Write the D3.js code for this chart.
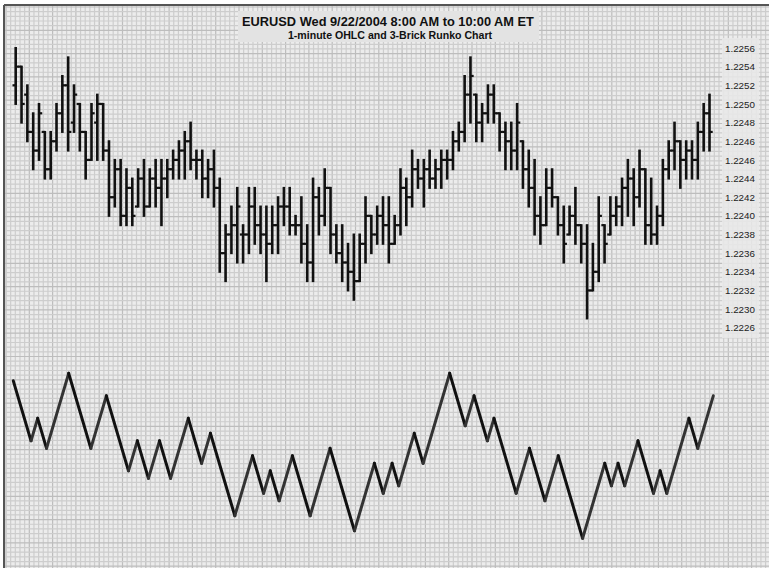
<!DOCTYPE html>
<html>
<head>
<meta charset="utf-8">
<script src="https://cdn.jsdelivr.net/npm/d3@7"></script>
<style>
  body { margin: 0; background: #fff; }
  svg { display: block; }
</style>
</head>
<body>
<div id="chart"></div>
<script>
var width = 769, height = 568;

var titleText = "EURUSD Wed 9/22/2004 8:00 AM to 10:00 AM ET";
var subtitleText = "1-minute OHLC and 3-Brick Runko Chart";

// right hand labels, top to bottom, as printed
var priceLabels = ["1.2256", "1.2254", "1.2252", "1.2250", "1.2248", "1.2246", "1.2246", "1.2244",
    "1.2242", "1.2240", "1.2238", "1.2236", "1.2234", "1.2232", "1.2230", "1.2226"];
var labelStep = 0.0002;

// 1-minute bars 8:00 .. 9:59
var ohlcOpen = [
    1.2252,1.2254,1.2251,1.2247,1.2245,1.2247,1.2243,1.2246,1.2249,1.2252,
    1.2248,1.2250,1.2247,1.2244,1.2248,1.2250,1.2245,1.2240,1.2243,1.2238,
    1.2241,1.2239,1.2242,1.2239,1.2242,1.2241,1.2242,1.2243,1.2244,1.2245,
    1.2246,1.2244,1.2244,1.2242,1.2243,1.2241,1.2234,1.2236,1.2237,1.2236,
    1.2236,1.2239,1.2237,1.2236,1.2235,1.2237,1.2239,1.2239,1.2237,1.2237,
    1.2235,1.2233,1.2240,1.2238,1.2241,1.2236,1.2234,1.2233,1.2232,1.2231,
    1.2235,1.2238,1.2236,1.2238,1.2237,1.2235,1.2237,1.2241,1.2240,1.2243,
    1.2242,1.2243,1.2242,1.2243,1.2244,1.2244,1.2246,1.2247,1.2251,1.2251,
    1.2248,1.2249,1.2251,1.2249,1.2247,1.2246,1.2245,1.2246,1.2243,1.2241,
    1.2238,1.2237,1.2241,1.2240,1.2237,1.2236,1.2238,1.2237,1.2235,1.2230,
    1.2232,1.2237,1.2236,1.2238,1.2239,1.2241,1.2242,1.2240,1.2243,1.2237,
    1.2236,1.2238,1.2243,1.2245,1.2246,1.2244,1.2245,1.2244,1.2247,1.2249];
var ohlcHigh = [
    1.2256,1.2254,1.2252,1.2249,1.2250,1.2247,1.2247,1.2250,1.2253,1.2255,
    1.2252,1.2250,1.2247,1.2250,1.2251,1.2250,1.2246,1.2244,1.2244,1.2243,
    1.2242,1.2243,1.2244,1.2243,1.2244,1.2244,1.2244,1.2245,1.2246,1.2247,
    1.2248,1.2245,1.2245,1.2244,1.2245,1.2242,1.2237,1.2239,1.2241,1.2237,
    1.2241,1.2241,1.2239,1.2239,1.2239,1.2240,1.2241,1.2241,1.2238,1.2240,
    1.2237,1.2242,1.2241,1.2243,1.2241,1.2237,1.2237,1.2235,1.2236,1.2236,
    1.2240,1.2238,1.2239,1.2240,1.2240,1.2238,1.2243,1.2242,1.2245,1.2244,
    1.2244,1.2245,1.2244,1.2245,1.2245,1.2247,1.2248,1.2253,1.2255,1.2251,
    1.2250,1.2252,1.2252,1.2249,1.2248,1.2248,1.2250,1.2246,1.2245,1.2244,
    1.2240,1.2243,1.2243,1.2240,1.2239,1.2239,1.2241,1.2237,1.2237,1.2235,
    1.2240,1.2237,1.2240,1.2240,1.2242,1.2244,1.2243,1.2245,1.2243,1.2242,
    1.2239,1.2244,1.2246,1.2248,1.2246,1.2246,1.2246,1.2248,1.2250,1.2251];
var ohlcLow = [
    1.2250,1.2248,1.2246,1.2243,1.2244,1.2242,1.2242,1.2245,1.2247,1.2245,
    1.2247,1.2245,1.2242,1.2244,1.2244,1.2244,1.2238,1.2239,1.2237,1.2237,
    1.2237,1.2239,1.2238,1.2239,1.2239,1.2237,1.2240,1.2242,1.2242,1.2242,
    1.2243,1.2242,1.2240,1.2240,1.2239,1.2232,1.2231,1.2234,1.2233,1.2233,
    1.2234,1.2235,1.2234,1.2231,1.2234,1.2234,1.2237,1.2236,1.2236,1.2233,
    1.2231,1.2231,1.2236,1.2237,1.2234,1.2233,1.2231,1.2230,1.2229,1.2231,
    1.2233,1.2234,1.2235,1.2235,1.2233,1.2235,1.2236,1.2237,1.2239,1.2241,
    1.2239,1.2241,1.2241,1.2241,1.2242,1.2243,1.2245,1.2246,1.2248,1.2246,
    1.2246,1.2248,1.2248,1.2245,1.2243,1.2243,1.2243,1.2241,1.2239,1.2236,
    1.2235,1.2237,1.2239,1.2236,1.2233,1.2236,1.2235,1.2233,1.2227,1.2230,
    1.2231,1.2233,1.2236,1.2237,1.2237,1.2238,1.2237,1.2239,1.2235,1.2235,
    1.2235,1.2237,1.2242,1.2243,1.2241,1.2242,1.2242,1.2242,1.2245,1.2245];
var ohlcClose = [
    1.2254,1.2250,1.2247,1.2245,1.2249,1.2243,1.2246,1.2249,1.2252,1.2247,
    1.2251,1.2247,1.2244,1.2249,1.2250,1.2245,1.2240,1.2243,1.2238,1.2241,
    1.2238,1.2242,1.2239,1.2242,1.2241,1.2242,1.2243,1.2244,1.2245,1.2246,
    1.2244,1.2244,1.2242,1.2243,1.2241,1.2234,1.2236,1.2237,1.2239,1.2236,
    1.2239,1.2237,1.2236,1.2235,1.2237,1.2239,1.2239,1.2237,1.2237,1.2235,
    1.2233,1.2240,1.2238,1.2241,1.2236,1.2234,1.2233,1.2232,1.2231,1.2235,
    1.2238,1.2236,1.2238,1.2237,1.2235,1.2237,1.2241,1.2240,1.2243,1.2242,
    1.2243,1.2242,1.2243,1.2244,1.2244,1.2246,1.2247,1.2251,1.2253,1.2248,
    1.2249,1.2251,1.2249,1.2247,1.2246,1.2245,1.2248,1.2243,1.2241,1.2238,
    1.2237,1.2241,1.2240,1.2237,1.2235,1.2238,1.2237,1.2235,1.2230,1.2232,
    1.2238,1.2235,1.2238,1.2239,1.2241,1.2242,1.2240,1.2243,1.2237,1.2236,
    1.2238,1.2243,1.2245,1.2246,1.2244,1.2245,1.2244,1.2247,1.2249,1.2247];

// renko reversal points (price), one brick = 1 pip
var brickSize = 0.0001;
var renkoTurns = [
    1.2254,1.2246,1.2249,1.2245,1.2255,1.2245,1.2252,1.2242,1.2246,1.2241,
    1.2246,1.2241,1.2249,1.2243,1.2247,1.2236,1.2244,1.2239,1.2242,1.2238,
    1.2244,1.2236,1.2245,1.2234,1.2243,1.2239,1.2243,1.2240,1.2247,1.2243,
    1.2255,1.2248,1.2252,1.2246,1.2249,1.2239,1.2245,1.2238,1.2244,1.2233,
    1.2243,1.2240,1.2243,1.2240,1.2246,1.2239,1.2242,1.2239,1.2249,1.2245,
    1.2252];

var svg = d3.select("#chart").append("svg")
    .attr("width", width)
    .attr("height", height);

// background + grid
var frameX = 4, frameY = 5;
svg.append("rect")
    .attr("x", frameX).attr("y", frameY)
    .attr("width", width - frameX).attr("height", height - frameY)
    .attr("fill", "#ececec");

var gridStep = 4.66;
var grid = svg.append("g").attr("stroke", "#cdcdcd").attr("stroke-width", 1.2);
d3.range(frameX + 2, width, gridStep).forEach(function (gx, i) {
    grid.append("line")
        .attr("x1", gx).attr("x2", gx).attr("y1", frameY).attr("y2", height)
        .attr("stroke", i % 5 === 0 ? "#bdbdbd" : null);
});
d3.range(frameY + 2, height, gridStep).forEach(function (gy, i) {
    grid.append("line")
        .attr("y1", gy).attr("y2", gy).attr("x1", frameX).attr("x2", width)
        .attr("stroke", i % 5 === 0 ? "#bdbdbd" : null);
});

// frame (top and left edges)
svg.append("line").attr("x1", frameX).attr("x2", width).attr("y1", frameY).attr("y2", frameY)
    .attr("stroke", "#555").attr("stroke-width", 2);
svg.append("line").attr("x1", frameX).attr("x2", frameX).attr("y1", frameY).attr("y2", height)
    .attr("stroke", "#555").attr("stroke-width", 2);

// ---- OHLC panel
var x = d3.scaleLinear()
    .domain([0, ohlcClose.length - 1])
    .range([15.7, 709.5]);

var topPrice = +priceLabels[0];
var y = d3.scaleLinear()
    .domain([topPrice, topPrice - labelStep * (priceLabels.length - 1)])
    .range([48, 48 + 18.65 * (priceLabels.length - 1)]);

var bars = ohlcClose.map(function (c, i) {
    return {i: i, o: ohlcOpen[i], h: ohlcHigh[i], l: ohlcLow[i], c: c};
});

var barG = svg.append("g").attr("stroke", "#111");
barG.selectAll("line.hl")
    .data(bars)
    .enter()
    .append("line")
    .attr("class", "hl")
    .attr("stroke-width", 2.6)
    .attr("x1", function (d) { return x(d.i); })
    .attr("x2", function (d) { return x(d.i); })
    .attr("y1", function (d) { return y(d.h) - 1; })
    .attr("y2", function (d) { return y(d.l) + 1; });
barG.selectAll("line.op")
    .data(bars)
    .enter()
    .append("line")
    .attr("class", "op")
    .attr("stroke-width", 2.2)
    .attr("x1", function (d) { return x(d.i) - 3.2; })
    .attr("x2", function (d) { return x(d.i); })
    .attr("y1", function (d) { return y(d.o); })
    .attr("y2", function (d) { return y(d.o); });
barG.selectAll("line.cl")
    .data(bars)
    .enter()
    .append("line")
    .attr("class", "cl")
    .attr("stroke-width", 2.2)
    .attr("x1", function (d) { return x(d.i); })
    .attr("x2", function (d) { return x(d.i) + 3.2; })
    .attr("y1", function (d) { return y(d.c); })
    .attr("y2", function (d) { return y(d.c); });

// price label strip
svg.append("rect")
    .attr("x", 722).attr("y", 38).attr("width", 37).attr("height", 300)
    .attr("fill", "#e9e9e9").attr("opacity", 0.85);

var tickVals = priceLabels.map(function (t, i) { return topPrice - labelStep * i; });
var yAxis = d3.axisRight(y)
    .tickValues(tickVals)
    .tickSize(0)
    .tickPadding(0)
    .tickFormat(function (d, i) { return priceLabels[i]; });
var axisG = svg.append("g")
    .attr("transform", "translate(725,0)")
    .call(yAxis);
axisG.select(".domain").remove();
axisG.selectAll("text")
    .attr("font-family", "Liberation Sans, Arial, sans-serif")
    .attr("font-size", "9.8px")
    .attr("fill", "#222");

// ---- Renko panel
var renkoPts = [];
var brickCount = 0;
renkoTurns.forEach(function (p, i) {
    if (i > 0) brickCount += Math.round(Math.abs(p - renkoTurns[i - 1]) / brickSize);
    renkoPts.push({k: brickCount, p: p});
});

var rx = d3.scaleLinear().domain([0, brickCount]).range([13.3, 713.3]);
var ry = d3.scaleLinear()
    .domain([d3.max(renkoTurns), d3.min(renkoTurns)])
    .range([373.3, 538.3]);

var segs = d3.pairs(renkoPts);
svg.append("g")
    .selectAll("line")
    .data(segs)
    .enter()
    .append("line")
    .attr("x1", function (d) { return rx(d[0].k); })
    .attr("y1", function (d) { return ry(d[0].p); })
    .attr("x2", function (d) { return rx(d[1].k); })
    .attr("y2", function (d) { return ry(d[1].p); })
    .attr("stroke", function (d) { return d[1].p > d[0].p ? "#333" : "#111"; })
    .attr("stroke-width", 3)
    .attr("stroke-linecap", "round");

// ---- title box
svg.append("rect")
    .attr("x", 238).attr("y", 11).attr("width", 301).attr("height", 31)
    .attr("fill", "#e3e3e3");
svg.append("text")
    .attr("x", 388).attr("y", 25.5)
    .attr("text-anchor", "middle")
    .attr("font-family", "Liberation Sans, Arial, sans-serif")
    .attr("font-weight", "bold")
    .attr("font-size", "12.8px")
    .attr("fill", "#111")
    .text(titleText);
svg.append("text")
    .attr("x", 390).attr("y", 38.5)
    .attr("text-anchor", "middle")
    .attr("font-family", "Liberation Sans, Arial, sans-serif")
    .attr("font-weight", "bold")
    .attr("font-size", "10.6px")
    .attr("fill", "#111")
    .text(subtitleText);
</script>
</body>
</html>
